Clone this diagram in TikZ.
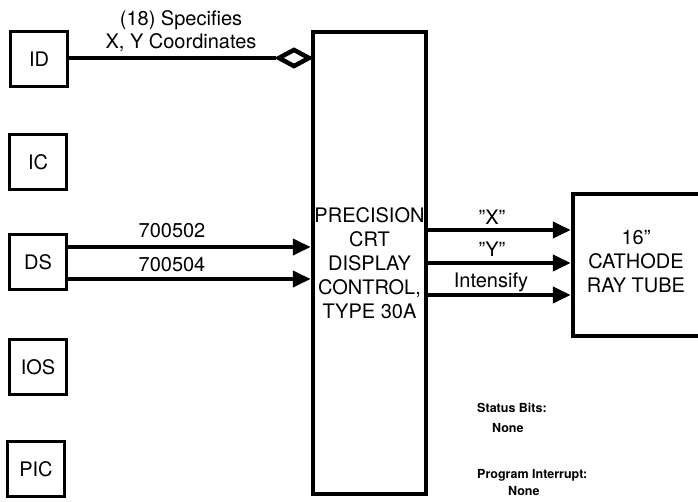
\documentclass[tikz,border=0pt]{standalone}
\usepackage{fontspec}
\setmainfont{TeX Gyre Heros}
\usetikzlibrary{arrows.meta,shapes.geometric}
\newcommand\diagbig{\fontsize{20}{24}\selectfont}
\newcommand\diagsmall{\fontsize{12.5}{16}\selectfont\bfseries}
\tikzset{
  smallbox/.style={draw, line width=3.5pt, minimum width=57pt, minimum height=55pt, inner sep=0pt, font=\diagbig},
  bigbox/.style={draw, line width=4.5pt, inner sep=0pt, align=center, font=\diagbig},
  sig/.style={line width=4pt, -{Triangle[length=18pt,width=16pt]}},
  lbl/.style={font=\diagbig, inner sep=0pt},
  note/.style={font=\diagsmall, inner sep=0pt},
  joint/.style={diamond, draw, line width=4.5pt, fill=white, minimum width=32pt, minimum height=18pt, inner sep=0pt}
}
\begin{document}
\begin{tikzpicture}[x=1pt,y=-1pt]
\useasboundingbox (0,0) rectangle (698,502);
\clip (0,0) rectangle (698,502);
% left boxes
\node[smallbox] (id)  at (39,59)  {ID};
\node[smallbox] (ic)  at (38,162) {IC};
\node[smallbox] (ds)  at (38,262) {DS};
\node[smallbox] (ios) at (38,367) {IOS};
\node[smallbox] (pic) at (36,469) {PIC};
% control box
\node[bigbox, minimum width=113pt, minimum height=462pt] (ctrl) at (369.5,263)
  {PRECISION\\CRT\\DISPLAY\\CONTROL,\\TYPE 30A};
% CRT box
\node[draw, line width=4.5pt, minimum width=200pt, minimum height=142pt] (crtbox) at (673,265) {};
\node[lbl, align=center] (crt) at (636,262) {16”\\CATHODE\\RAY TUBE};
% ID connection
\node[joint] (dia) at (294,58) {};
\draw[line width=3.5pt] (id.east |- 0,58) -- (dia.west);
\node[lbl] (l18) at (181,20) {(18) Specifies};
\node[lbl] (lxy) at (181,43) {X, Y Coordinates};
% DS connections
\draw[sig] (ds.east |- 0,247) -- (ctrl.west |- 0,247);
\draw[sig] (ds.east |- 0,279) -- (ctrl.west |- 0,279);
\node[lbl] (l502) at (172,231) {700502};
\node[lbl] (l504) at (172,265) {700504};
% outputs
\draw[sig] (ctrl.east |- 0,230) -- (crtbox.west |- 0,230);
\draw[sig] (ctrl.east |- 0,263) -- (crtbox.west |- 0,263);
\draw[sig] (ctrl.east |- 0,295) -- (crtbox.west |- 0,295);
\node[lbl] (lx) at (492,217) {"X"};
\node[lbl] (ly) at (492,249) {"Y"};
\node[lbl] (lint) at (491,282) {Intensify};
% notes
\node[note, anchor=west] (sb) at (477,408) {Status Bits:};
\node[note, anchor=west] (sbn) at (492,428) {None};
\node[note, anchor=west] (pi) at (477,475) {Program Interrupt:};
\node[note, anchor=west] (pin) at (508,491) {None};
\end{tikzpicture}
\end{document}
